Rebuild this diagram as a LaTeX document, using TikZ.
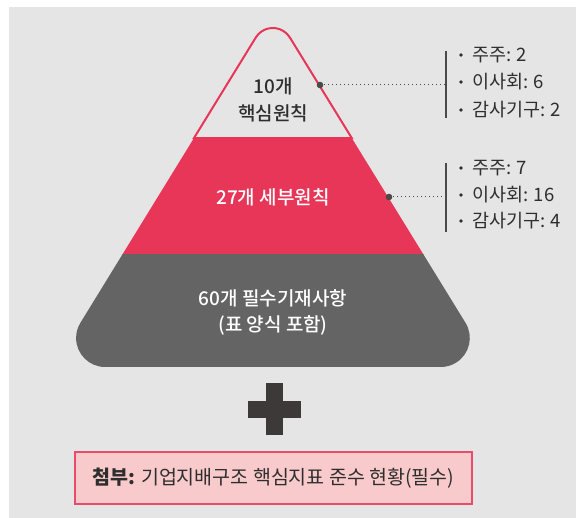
\documentclass[tikz,border=0pt]{standalone}
\usepackage{fontspec}
\setmainfont{Noto Sans CJK KR}
\newfontfamily\krmed{Noto Sans CJK KR Medium}
\definecolor{bg}{HTML}{E5E5E5}
\definecolor{pred}{HTML}{E73658}
\definecolor{pgray}{HTML}{646464}
\definecolor{plusc}{HTML}{3D3939}
\definecolor{boxfill}{HTML}{F8CACB}
\definecolor{boxline}{HTML}{E84C6A}
\definecolor{txt}{HTML}{2E2E2E}
\definecolor{linec}{HTML}{4A4A4A}
\begin{document}
\begin{tikzpicture}[x=1pt,y=-1pt,
  lbl/.style={font=\krmed\fontsize{19}{22}\selectfont, inner sep=0pt},
  itm/.style={font=\fontsize{18.5}{22}\selectfont, inner sep=0pt, anchor=west, text=txt},
  leader/.style={linec, line width=1pt, dash pattern=on 1pt off 3pt},
  brack/.style={linec, line width=1.3pt},
  bul/.style={txt},
  knob/.style={linec}]
\useasboundingbox (0,0) rectangle (576,518);
\fill[white] (0,0) rectangle (576,518);
\fill[bg] (9,7) rectangle (576,518);
\def\pyrpath{(255.8,37.5) arc[start angle=211.6,end angle=328.4,radius=20] -- (465.5,322.8) arc[start angle=328.4,end angle=450,radius=29] -- (105.1,367) arc[start angle=90,end angle=211.6,radius=29] -- cycle}
% top band outline
\begin{scope}
\clip (0,0) rectangle (576,139);
\draw[pred, line width=2pt] \pyrpath;
\end{scope}
% red band
\begin{scope}
\clip (0,138) rectangle (576,255);
\fill[pred] \pyrpath;
\end{scope}
% gray band
\begin{scope}
\clip (0,255) rectangle (576,380);
\fill[pgray] \pyrpath;
\end{scope}
% texts in pyramid
\node[lbl, text=txt] (t1) at (273,86) {10개};
\node[lbl, text=txt] (t2) at (273,113) {핵심원칙};
\node[lbl, text=white] (t3) at (273,197) {27개 세부원칙};
\node[lbl, text=white] (t4) at (273,298) {60개 필수기재사항};
\node[lbl, text=white] (t5) at (273,325) {(표 양식 포함)};
% leaders
\coordinate (d1) at (320,85);
\coordinate (b1) at (446,85);
\coordinate (b1t) at (446,51);
\coordinate (b1b) at (446,118);
\draw[leader] (d1) -- (b1);
\fill[knob] (d1) circle (3.3);
\draw[brack] (b1t) -- (b1b);
\coordinate (d2) at (389,197);
\coordinate (b2) at (446,197);
\coordinate (b2t) at (446,163);
\coordinate (b2b) at (446,232);
\draw[leader] (d2) -- (b2);
\fill[knob] (d2) circle (3.3);
\draw[brack] (b2t) -- (b2b);
% list items
\fill[bul] (461,55) circle (1.8);
\node[itm] (i1) at (472,55) {주주: 2};
\fill[bul] (461,82) circle (1.8);
\node[itm] (i2) at (472,82) {이사회: 6};
\fill[bul] (461,110) circle (1.8);
\node[itm] (i3) at (472,110) {감사기구: 2};
\fill[bul] (461,168) circle (1.8);
\node[itm] (i4) at (472,168) {주주: 7};
\fill[bul] (461,195) circle (1.8);
\node[itm] (i5) at (472,195) {이사회: 16};
\fill[bul] (461,221) circle (1.8);
\node[itm] (i6) at (472,221) {감사기구: 4};
% plus
\fill[plusc] (266,383) rectangle (283,435);
\fill[plusc] (248,401) rectangle (301,418);
% box
\node[draw=boxline, fill=boxfill, line width=1.3pt, minimum width=397pt, minimum height=52pt, inner sep=0pt, font=\fontsize{19.5}{22}\selectfont, text=txt] (box) at (273.5,478) {\textbf{첨부:} 기업지배구조 핵심지표 준수 현황(필수)};
\end{tikzpicture}
\end{document}
